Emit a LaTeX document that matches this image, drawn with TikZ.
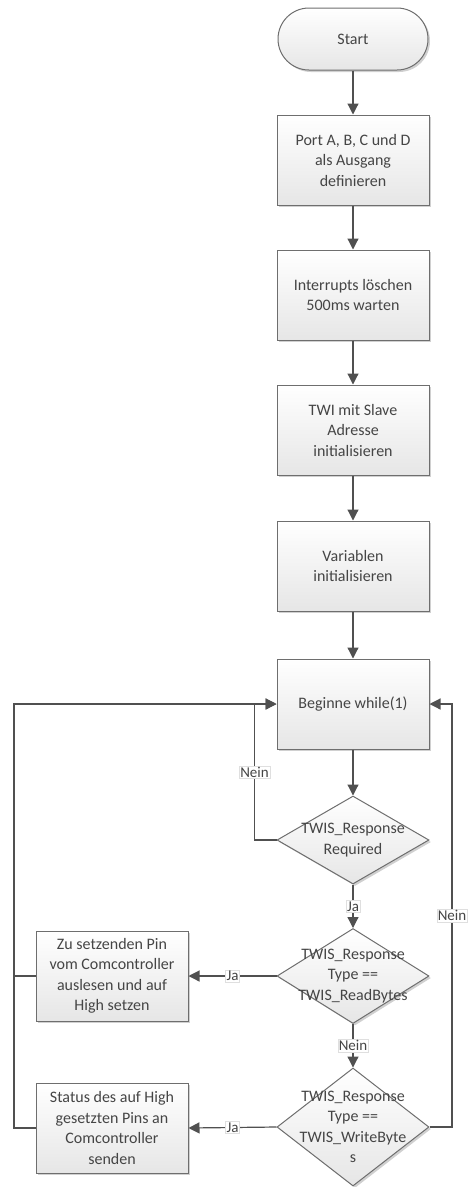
\documentclass[tikz,border=0pt]{standalone}
\usepackage{fontspec}
\setsansfont{Carlito}
\usetikzlibrary{arrows.meta,shapes.geometric,shadows}
\definecolor{fcline}{HTML}{6E6E6E}
\definecolor{fcarrow}{HTML}{505050}
\definecolor{fctext}{HTML}{454545}
\definecolor{fcfill}{HTML}{E6E6E6}
\definecolor{fcshadow}{HTML}{C4C4C4}

\tikzset{
  fcbase/.style={draw=fcline, line width=1pt, top color=white, bottom color=fcfill,
    drop shadow={shadow xshift=2pt, shadow yshift=-2pt, fill=fcshadow, opacity=0.8},
    text=fctext, align=center, inner sep=0pt,
    font=\sffamily\fontsize{16}{20.5}\selectfont},
  terminal/.style={fcbase, rectangle, rounded corners=31pt,
    minimum width=150pt, minimum height=62pt},
  process/.style={fcbase, rectangle, minimum width=152pt, minimum height=90pt},
  decision/.style={fcbase, diamond, minimum width=152pt, minimum height=#1},
  decision/.default=88pt,
  dtext/.style={text=fctext, align=center, inner sep=0pt,
    font=\sffamily\fontsize{16}{20.5}\selectfont},
  flow/.style={draw=fcarrow, line width=1.2pt},
  arr/.style={flow, -{Triangle[width=11pt,length=11pt]}},
  lbl/.style={fill=white, draw=gray!25, line width=0.4pt, inner sep=1pt,
    text=fctext, font=\sffamily\fontsize{15}{17}\selectfont}
}

\begin{document}
\begin{tikzpicture}[x=1pt, y=-1pt]
  \useasboundingbox (0,0) rectangle (467,1187);

  % main column
  \node[terminal] (start) at (353,39) {Start};
  \node[process] (ports) at (353,160) {Port A, B, C und D\\als Ausgang\\definieren};
  \node[process] (irq) at (353,295) {Interrupts löschen\\500ms warten};
  \node[process] (twi) at (353,430) {TWI mit Slave\\Adresse\\initialisieren};
  \node[process] (vars) at (353,566) {Variablen\\initialisieren};
  \node[process] (loop) at (353,704) {Beginne while(1)};

  % decisions
  \node[decision, label={[dtext]center:{TWIS\_Response\\Required}}] (req) at (353,840) {};
  \node[decision=95pt, label={[dtext]center:{TWIS\_Response\\Type ==\\TWIS\_ReadBytes}}] (rdb) at (353,976) {};
  \node[decision=118pt, label={[dtext]center:{TWIS\_Response\\Type ==\\TWIS\_WriteByte\\s}}] (wrb) at (353,1127) {};

  % actions
  \node[process] (setpin) at (112,976) {Zu setzenden Pin\\vom Comcontroller\\auslesen und auf\\High setzen};
  \node[process] (sendst) at (112,1128) {Status des auf High\\gesetzten Pins an\\Comcontroller\\senden};

  \coordinate (lx) at (14,704);
  \coordinate (rx) at (452,704);

  \draw[arr] (start) -- (ports);
  \draw[arr] (ports) -- (irq);
  \draw[arr] (irq) -- (twi);
  \draw[arr] (twi) -- (vars);
  \draw[arr] (vars) -- (loop);
  \draw[arr] (loop) -- (req);

  \draw[arr] (req.west) -- ++(-22pt,0) |- (loop.west) node[lbl, pos=0.25] {Nein};
  \draw[arr] (req.south) -- (rdb.north) node[lbl, midway] {Ja};
  \draw[arr] (rdb.west) -- (setpin.east) node[lbl, midway] {Ja};
  \draw[arr] (rdb.south) -- (wrb.north) node[lbl, midway] {Nein};
  \draw[arr] (wrb.west) -- (sendst.east) node[lbl, midway] {Ja};

  \draw[flow] (sendst.west) -| (setpin.west -| lx);
  \draw[arr] (setpin.west) -| (lx) -- (loop.west);
  \draw[arr] (wrb.east) -| (rx) node[lbl, pos=0.75] {Nein} -- (loop.east);
\end{tikzpicture}
\end{document}
